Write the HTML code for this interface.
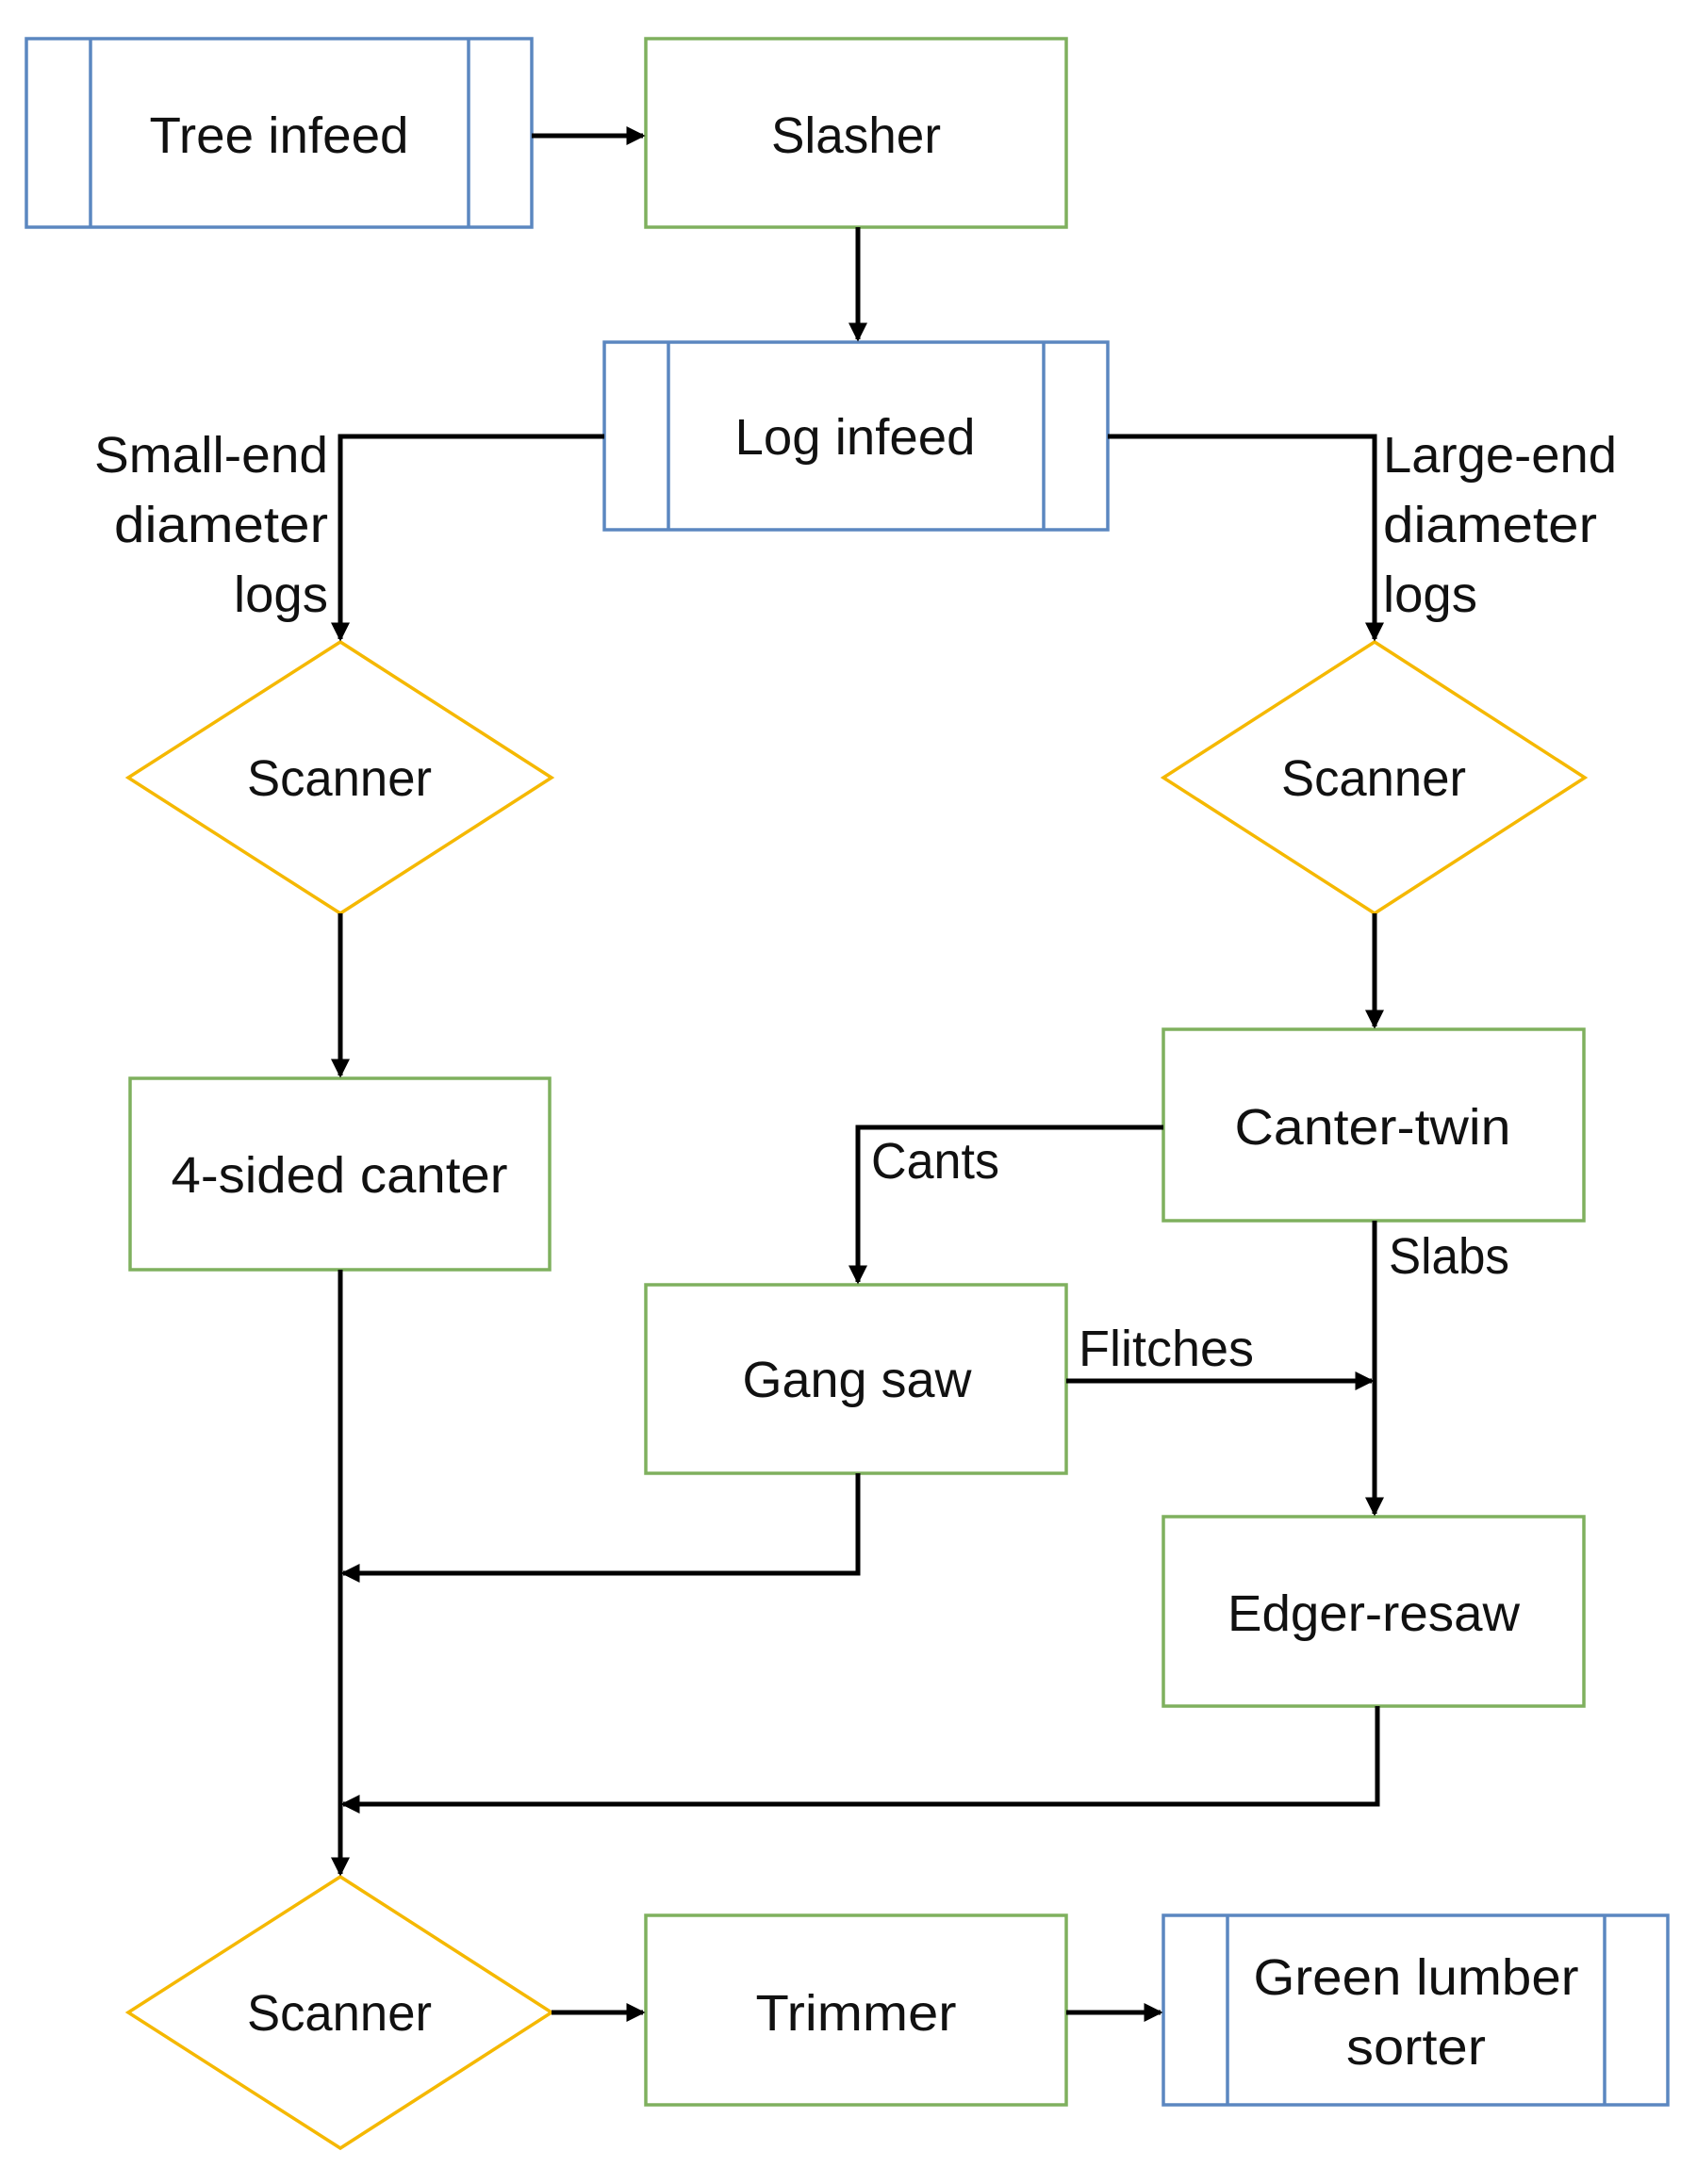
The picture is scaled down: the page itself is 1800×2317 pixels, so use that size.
<!DOCTYPE html>
<html><head><meta charset="utf-8"><style>
html,body{margin:0;padding:0;background:#fff}
svg{display:block}
text{font-family:"Liberation Sans",sans-serif;font-size:54px;fill:#111}
</style></head><body>
<svg width="1800" height="2317" viewBox="0 0 1800 2317" xmlns="http://www.w3.org/2000/svg">
<defs>
<marker id="a" markerWidth="4" markerHeight="4" refX="3.5" refY="2" orient="auto" markerUnits="strokeWidth">
<path d="M0,0 L4,2 L0,4 z" fill="#000"/></marker>
</defs>
<g fill="#fff" stroke-width="3.5">
<g stroke="#5b87c0">
<rect x="28" y="41" width="536" height="200"/><line x1="96" y1="41" x2="96" y2="241"/><line x1="497" y1="41" x2="497" y2="241"/>
<rect x="641" y="363" width="534" height="199"/><line x1="709" y1="363" x2="709" y2="562"/><line x1="1107" y1="363" x2="1107" y2="562"/>
<rect x="1234" y="2032" width="535" height="201"/><line x1="1302" y1="2032" x2="1302" y2="2233"/><line x1="1702" y1="2032" x2="1702" y2="2233"/>
</g>
<g stroke="#7fb05e">
<rect x="685" y="41" width="446" height="200"/>
<rect x="138" y="1144" width="445" height="203"/>
<rect x="1234" y="1092" width="446" height="203"/>
<rect x="685" y="1363" width="446" height="200"/>
<rect x="1234" y="1609" width="446" height="201"/>
<rect x="685" y="2032" width="446" height="201"/>
</g>
<g stroke="#f5b800">
<polygon points="361,681 585,825 361,969 136,825"/>
<polygon points="1458,681 1681,825 1458,969 1234,825"/>
<polygon points="361,1991 585,2135 361,2279 136,2135"/>
</g>
</g>
<g stroke="#000" stroke-width="5" fill="none">
<line x1="564" y1="144" x2="682" y2="144" marker-end="url(#a)"/>
<line x1="910" y1="241" x2="910" y2="360" marker-end="url(#a)"/>
<polyline points="641,463 361,463 361,678" marker-end="url(#a)"/>
<polyline points="1175,463 1458,463 1458,678" marker-end="url(#a)"/>
<line x1="361" y1="969" x2="361" y2="1141" marker-end="url(#a)"/>
<line x1="1458" y1="969" x2="1458" y2="1089" marker-end="url(#a)"/>
<polyline points="1234,1196 910,1196 910,1360" marker-end="url(#a)"/>
<line x1="1458" y1="1295" x2="1458" y2="1606" marker-end="url(#a)"/>
<line x1="1131" y1="1465" x2="1455" y2="1465" marker-end="url(#a)"/>
<polyline points="910,1563 910,1669 364,1669" marker-end="url(#a)"/>
<polyline points="1461,1810 1461,1914 364,1914" marker-end="url(#a)"/>
<line x1="361" y1="1347" x2="361" y2="1988" marker-end="url(#a)"/>
<line x1="585" y1="2135" x2="682" y2="2135" marker-end="url(#a)"/>
<line x1="1131" y1="2135" x2="1231" y2="2135" marker-end="url(#a)"/>
</g>
<g text-anchor="middle">
<text x="296" y="162" textLength="275" lengthAdjust="spacingAndGlyphs">Tree infeed</text>
<text x="908" y="162" textLength="180" lengthAdjust="spacingAndGlyphs">Slasher</text>
<text x="907" y="482" textLength="255" lengthAdjust="spacingAndGlyphs">Log infeed</text>
<text x="360" y="844" textLength="196" lengthAdjust="spacingAndGlyphs">Scanner</text>
<text x="1457" y="844" textLength="196" lengthAdjust="spacingAndGlyphs">Scanner</text>
<text x="360" y="2154" textLength="196" lengthAdjust="spacingAndGlyphs">Scanner</text>
<text x="360" y="1265" textLength="357" lengthAdjust="spacingAndGlyphs">4-sided canter</text>
<text x="1456" y="1214" textLength="293" lengthAdjust="spacingAndGlyphs">Canter-twin</text>
<text x="909" y="1482" textLength="243" lengthAdjust="spacingAndGlyphs">Gang saw</text>
<text x="1457" y="1730" textLength="310" lengthAdjust="spacingAndGlyphs">Edger-resaw</text>
<text x="908" y="2154" textLength="213" lengthAdjust="spacingAndGlyphs">Trimmer</text>
<text x="1502" y="2116" textLength="345" lengthAdjust="spacingAndGlyphs">Green lumber</text>
<text x="1502" y="2190" textLength="148" lengthAdjust="spacingAndGlyphs">sorter</text>
</g>
<g text-anchor="end">
<text x="348" y="501" textLength="248" lengthAdjust="spacingAndGlyphs">Small-end</text>
<text x="348" y="575" textLength="227" lengthAdjust="spacingAndGlyphs">diameter</text>
<text x="348" y="649" textLength="100" lengthAdjust="spacingAndGlyphs">logs</text>
</g>
<g>
<text x="1467" y="501" textLength="248" lengthAdjust="spacingAndGlyphs">Large-end</text>
<text x="1467" y="575" textLength="227" lengthAdjust="spacingAndGlyphs">diameter</text>
<text x="1467" y="649" textLength="100" lengthAdjust="spacingAndGlyphs">logs</text>
<text x="924" y="1250" textLength="136" lengthAdjust="spacingAndGlyphs">Cants</text>
<text x="1473" y="1351" textLength="128" lengthAdjust="spacingAndGlyphs">Slabs</text>
<text x="1144" y="1449" textLength="186" lengthAdjust="spacingAndGlyphs">Flitches</text>
</g>
</svg>
</body></html>
